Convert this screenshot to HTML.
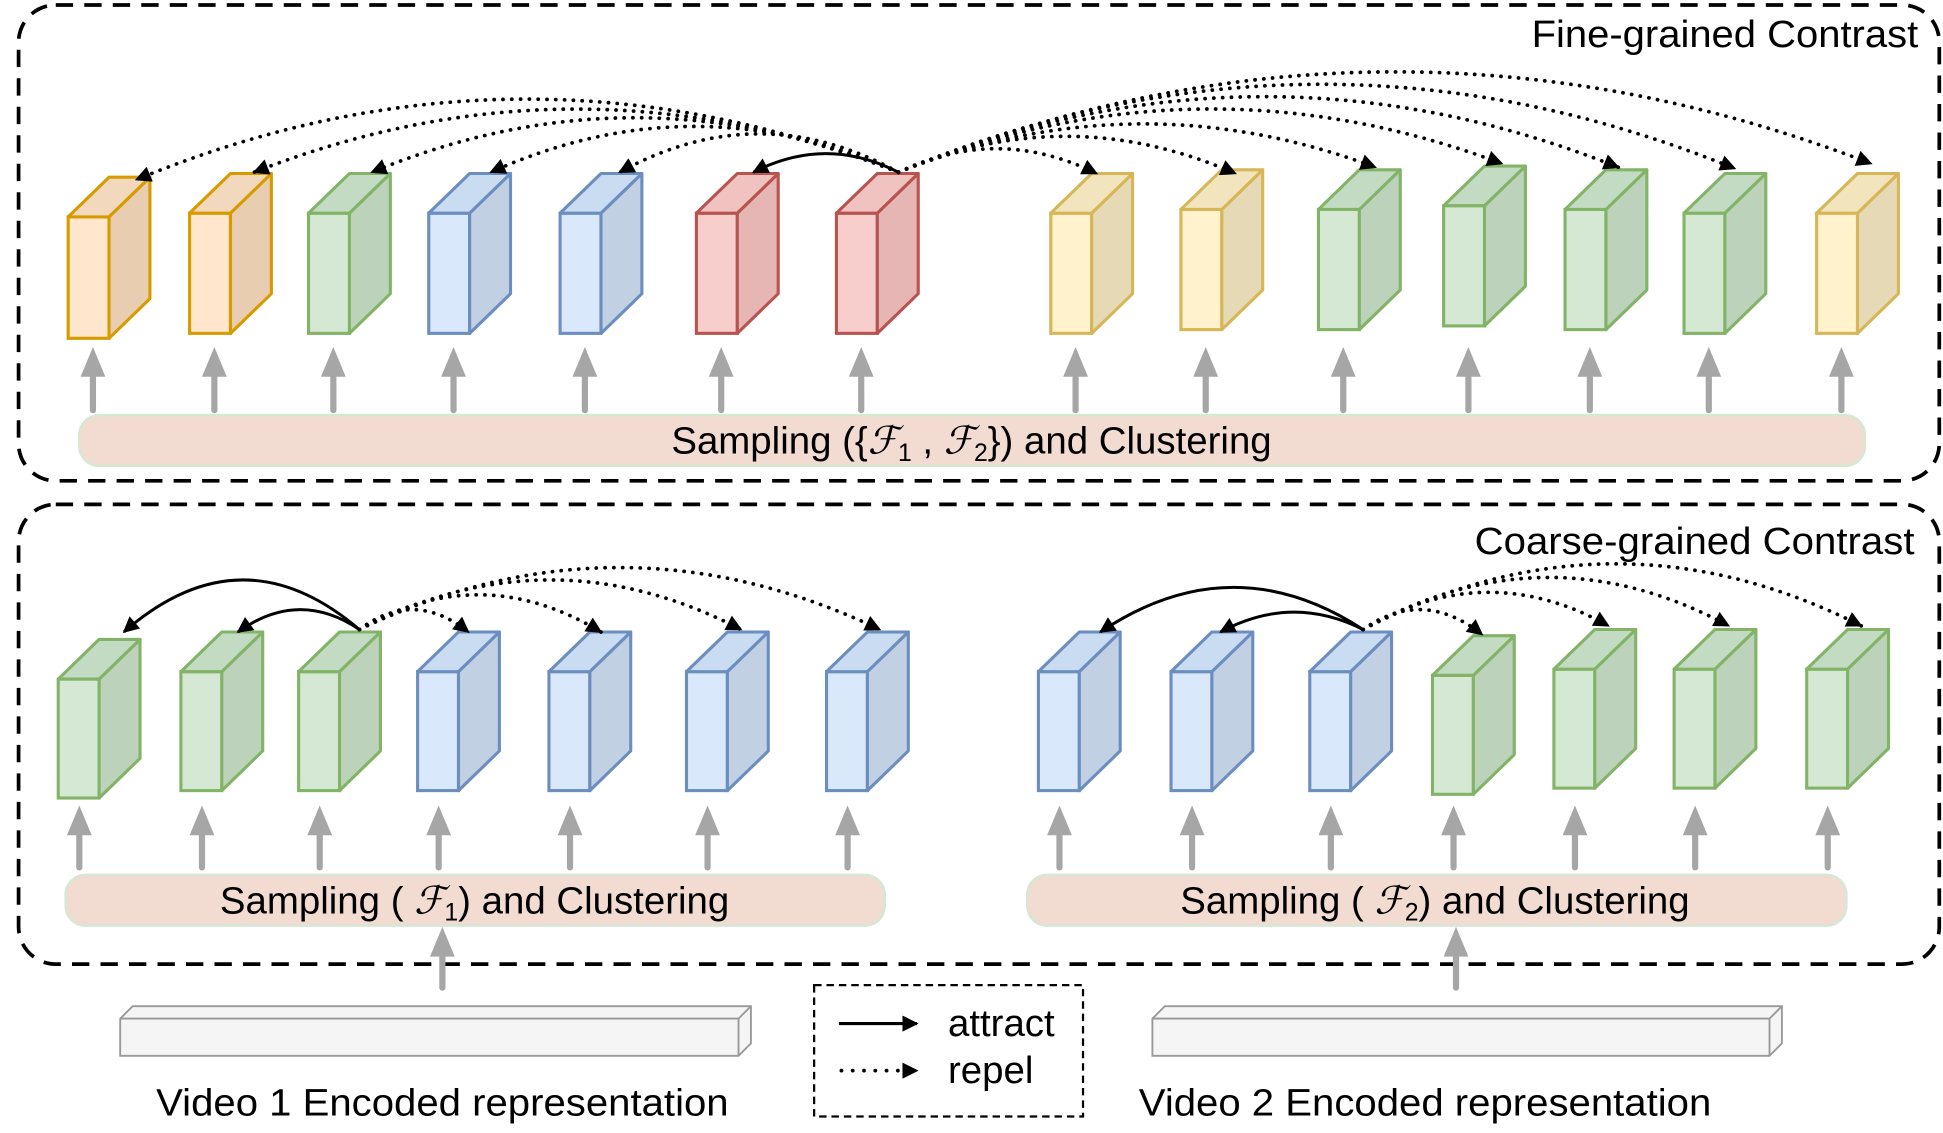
<!DOCTYPE html>
<html><head><meta charset="utf-8"><style>
html,body{margin:0;padding:0;background:#fff;}
svg{display:block;}
text{font-family:"Liberation Sans",Arial,sans-serif;fill:#000;}
.m{font-family:"Liberation Serif",serif;font-style:italic;}
</style></head><body>
<svg id="s" width="1943" height="1133" viewBox="0 0 1568 914.3" xmlns="http://www.w3.org/2000/svg">
<defs>
<marker id="ahb" viewBox="0 0 10 10" refX="9" refY="5" markerWidth="16" markerHeight="13" orient="auto" markerUnits="userSpaceOnUse"><path d="M0,0 L10,5 L0,10 z" fill="#000"/></marker>
</defs>
<rect x="15" y="4" width="1550" height="384" rx="30" fill="none" stroke="#000" stroke-width="3" stroke-dasharray="14,9"/>
<rect x="15" y="407" width="1550" height="371" rx="30" fill="none" stroke="#000" stroke-width="3" stroke-dasharray="14,9"/>
<text x="1548" y="38" font-size="31" text-anchor="end" textLength="312" lengthAdjust="spacingAndGlyphs">Fine-grained Contrast</text>
<text x="1545" y="447" font-size="31" text-anchor="end" textLength="355" lengthAdjust="spacingAndGlyphs">Coarse-grained Contrast</text>

<rect x="64" y="335" width="1441" height="41" rx="16" fill="#f2dbd0" stroke="#d5e8d4" stroke-width="2"/>
<text x="784" y="366" font-size="31" text-anchor="middle">Sampling ({<tspan class="m">ℱ</tspan><tspan font-size="20" dy="6">1</tspan><tspan dy="-6"> , </tspan><tspan class="m">ℱ</tspan><tspan font-size="20" dy="6">2</tspan><tspan dy="-6">}) and Clustering</tspan></text>
<rect x="53" y="706" width="661" height="41" rx="16" fill="#f2dbd0" stroke="#d5e8d4" stroke-width="2"/>
<text x="383" y="737" font-size="31" text-anchor="middle">Sampling ( <tspan class="m">ℱ</tspan><tspan font-size="20" dy="6">1</tspan><tspan dy="-6">) and Clustering</tspan></text>
<rect x="829" y="706" width="661" height="41" rx="16" fill="#f2dbd0" stroke="#d5e8d4" stroke-width="2"/>
<text x="1158" y="737" font-size="31" text-anchor="middle">Sampling ( <tspan class="m">ℱ</tspan><tspan font-size="20" dy="6">2</tspan><tspan dy="-6">) and Clustering</tspan></text>

<path d="M97,822 L107,812 L606,812 L606,842 L596,852 L97,852 Z" fill="#f5f5f5" stroke="#999" stroke-width="1.5"/>
<path d="M97,822 L596,822 L606,812 M596,822 L596,852" fill="none" stroke="#999" stroke-width="1.5"/>
<path d="M930,822 L940,812 L1438,812 L1438,842 L1428,852 L930,852 Z" fill="#f5f5f5" stroke="#999" stroke-width="1.5"/>
<path d="M930,822 L1428,822 L1438,812 M1428,822 L1428,852" fill="none" stroke="#999" stroke-width="1.5"/>
<text x="357" y="900" font-size="31" text-anchor="middle" textLength="462" lengthAdjust="spacingAndGlyphs">Video 1 Encoded representation</text>
<text x="1150" y="900" font-size="31" text-anchor="middle" textLength="462" lengthAdjust="spacingAndGlyphs">Video 2 Encoded representation</text>

<rect x="657" y="795" width="217" height="106" fill="none" stroke="#000" stroke-width="1.8" stroke-dasharray="6,4"/>
<line x1="677" y1="826" x2="740" y2="826" stroke="#000" stroke-width="2.5" marker-end="url(#ahb)"/>
<line x1="679" y1="864" x2="740" y2="864" stroke="#000" stroke-width="3" stroke-linecap="round" stroke-dasharray="0.1,9" marker-end="url(#ahb)"/>
<text x="765" y="836" font-size="31">attract</text>
<text x="765" y="874" font-size="31">repel</text>
<g id="g"></g>
</svg>
<script>
var g=document.getElementById('g'),NS='http://www.w3.org/2000/svg';
function el(t,a){var e=document.createElementNS(NS,t);for(var k in a)e.setAttribute(k,a[k]);g.appendChild(e);return e;}
var C={o:['#d79b00','#ffe6cc','#e8cdb0','#f2d8bc'],g:['#82b366','#d5e8d4','#bcd2bb','#c4dbc3'],b:['#6c8ebf','#dae8fc','#c2d0e3','#cadcf2'],r:['#b85450','#f8cecc','#e6b6b5','#f0c2c0'],y:['#d6b656','#fff2cc','#e6d9b5','#f2e5bd']};
function cube(x,y,h,c){var s=C[c],w=33,d=33,e=32;
el('rect',{x:x,y:y,width:w,height:h,fill:s[1],stroke:s[0],'stroke-width':2.5});
el('path',{d:'M'+(x+w)+','+y+' L'+(x+w+d)+','+(y-e)+' L'+(x+w+d)+','+(y+h-e)+' L'+(x+w)+','+(y+h)+'Z',fill:s[2],stroke:s[0],'stroke-width':2.5,'stroke-linejoin':'round'});
el('path',{d:'M'+x+','+y+' L'+(x+d)+','+(y-e)+' L'+(x+w+d)+','+(y-e)+' L'+(x+w)+','+y+'Z',fill:s[3],stroke:s[0],'stroke-width':2.5,'stroke-linejoin':'round'});}
function garrow(x,y1,y2){el('line',{x1:x,y1:y1,x2:x,y2:y2+20,stroke:'#a6a6a6','stroke-width':5,'stroke-linecap':'round'});
el('path',{d:'M'+(x-10)+','+(y2+24)+' L'+x+','+y2+' L'+(x+10)+','+(y2+24)+'Z',fill:'#a6a6a6'});}
function arc(sx,sy,tx,ty,peak,dot){var cy=2*peak-(sy+ty)/2,cx=(sx+tx)/2;
var a={d:'M'+sx+','+sy+' Q'+cx+','+cy+' '+tx+','+ty,fill:'none',stroke:'#000','stroke-width':dot?3:2.4,'marker-end':'url(#ahb)'};
if(dot){a['stroke-dasharray']='0.1,7';a['stroke-linecap']='round';}
el('path',a);}
var T=[[55,175,98,'o'],[153,172,97,'o'],[249,172,97,'g'],[346,172,97,'b'],[452,172,97,'b'],[562,172,97,'r'],[675,172,97,'r'],[848,172,97,'y'],[953,169,97,'y'],[1064,169,97,'g'],[1165,166,97,'g'],[1263,169,97,'g'],[1359,172,97,'g'],[1466,172,97,'y']];
T.forEach(function(c){cube(c[0],c[1],c[2],c[3]);garrow(c[0]+20,331,280);});
var sx=725,sy=139;
[[110,145,80],[205,139,88],[300,139,95],[396,139,102],[500,139,108]].forEach(function(a){arc(sx,sy,a[0],a[1],a[2],1);});
arc(sx,sy,608,139,124,0);
[[885,140,120],[997,140,110],[1110,135,100],[1212,132,88],[1306,135,78],[1400,136,68],[1510,132,58]].forEach(function(a){arc(sx,sy,a[0],a[1],a[2],1);});
var L=[[47,548,96,'g'],[146,542,96,'g'],[241,542,96,'g'],[337,542,96,'b'],[443,542,96,'b'],[554,542,96,'b'],[667,542,96,'b']];
L.forEach(function(c){cube(c[0],c[1],c[2],c[3]);garrow(c[0]+17,700,650);});
arc(290,508,100,510,468,0);arc(290,508,192,510,492,0);
[[378,510,492],[485,510,480],[598,508,468],[710,508,458]].forEach(function(a){arc(290,508,a[0],a[1],a[2],1);});
var R=[[838,542,96,'b'],[945,542,96,'b'],[1057,542,96,'b'],[1156,545,96,'g'],[1254,540,96,'g'],[1351,540,96,'g'],[1458,540,96,'g']];
R.forEach(function(c){cube(c[0],c[1],c[2],c[3]);garrow(c[0]+17,700,650);});
arc(1100,508,888,510,474,0);arc(1100,508,985,510,494,0);
[[1196,512,492],[1298,505,478],[1395,505,466],[1502,505,455]].forEach(function(a){arc(1100,508,a[0],a[1],a[2],1);});
garrow(357,797,748);garrow(1175,797,748);
</script>
</body></html>
